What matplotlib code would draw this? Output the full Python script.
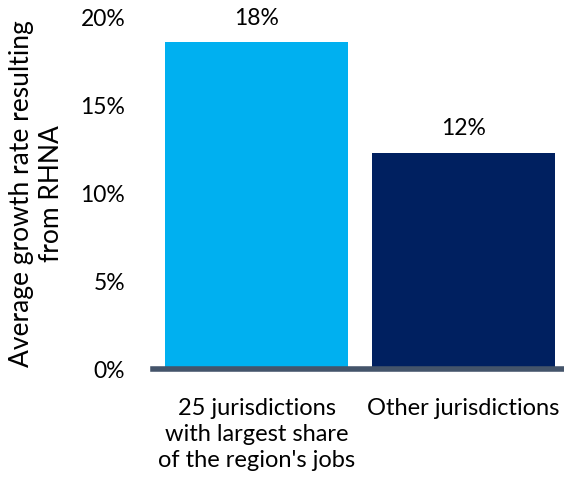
import matplotlib.pyplot as plt
from matplotlib.ticker import FuncFormatter

categories = ["25 jurisdictions\nwith largest share\nof the region's jobs", "Other jurisdictions"]
values = [18.6, 12.3]
labels = ["18%", "12%"]
colors = ["#00B0F0", "#002060"]

plt.rcParams['font.family'] = ['Lato', 'DejaVu Sans']

fig = plt.figure(figsize=(5.64, 4.81), dpi=100)
ax = fig.add_axes([0.2713, 0.2308, 0.734, 0.7318])

x = range(len(values))
bars = ax.bar(x, values, width=0.885, color=colors)
for b, lab in zip(bars, labels):
    ax.text(b.get_x() + b.get_width() / 2, b.get_height() + 0.8, lab,
            ha='center', va='bottom', fontsize=16.5, clip_on=False)

ax.set_xlim(-0.5, 1.5)
ax.set_ylim(0, 20)
ax.set_yticks([0, 5, 10, 15, 20])
ax.yaxis.set_major_formatter(FuncFormatter(lambda v, p: f"{v:.0f}%"))
ax.set_xticks(list(x))
ax.set_xticklabels(categories, fontsize=17, linespacing=1.3, va='top')

for s in ['top', 'right', 'left']:
    ax.spines[s].set_visible(False)
ax.spines['bottom'].set_color('#44546A')
ax.spines['bottom'].set_linewidth(4)
ax.tick_params(axis='both', length=0)
ax.tick_params(axis='y', pad=20, labelsize=16.5)
ax.tick_params(axis='x', pad=20)

ax.set_ylabel("Average growth rate resulting\nfrom RHNA", fontsize=19, labelpad=12, linespacing=1.25)

fig.savefig("out.png", dpi=100)
